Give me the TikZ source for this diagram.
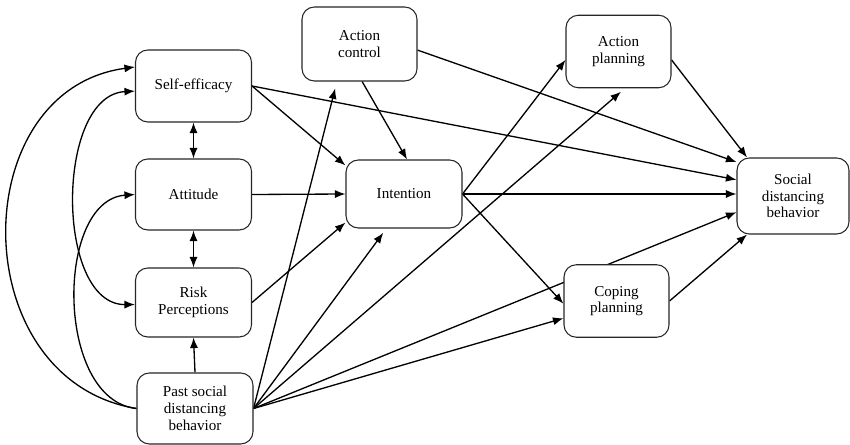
\documentclass[tikz,border=0pt]{standalone}
\usepackage{fontspec}
\setmainfont{Liberation Serif}
\usetikzlibrary{arrows.meta,backgrounds}

\tikzset{
  box/.style={draw=black!85,line width=0.6pt,rounded corners=7pt,fill=white,align=center,
    inner sep=0pt,minimum width=2.32cm,minimum height=1.42cm,
    font=\fontsize{8.6}{9.5}\selectfont},
  plan/.style={box,minimum width=2.1cm,minimum height=1.45cm},
  path/.style={line width=0.75pt,-{Latex[length=6pt,width=4.6pt]}},
  both/.style={path,{Latex[length=6pt,width=4.6pt]}-{Latex[length=6pt,width=4.6pt]}}
}

\begin{document}
\begin{tikzpicture}
  \useasboundingbox (0,0) rectangle (17,-8.9);

  % predictors
  \node[box,minimum height=1.44cm] (selfeff) at (3.87,-1.72) {Self-efficacy};
  \node[box] (attitude) at (3.87,-3.89) {Attitude};
  \node[box,minimum height=1.38cm] (risk) at (3.87,-6.05) {Risk\\Perceptions};
  \node[box] (past) at (3.90,-8.17) {Past social\\distancing\\behavior};

  % middle and right
  \node[box,minimum width=2.3cm,minimum height=1.48cm] (actctrl) at (7.19,-0.88) {Action\\control};
  \node[box,minimum height=1.36cm] (intention) at (8.08,-3.88) {Intention};
  \node[plan] (actplan) at (12.37,-1.03) {Action\\planning};
  \node[plan] (coping) at (12.33,-6.02) {Coping\\planning};
  \node[box,minimum width=2.24cm,minimum height=1.52cm] (social) at (15.86,-3.92) {Social\\distancing\\behavior};

  \begin{scope}[on background layer]
    % correlations among predictors
    \draw[both] (selfeff.south) -- (attitude.north);
    \draw[both] (attitude.south) -- (risk.north);
    \draw[both] (selfeff.185) .. controls (1.1,-1.9) and (1.1,-6.1) .. (risk.182);
    \draw[path] (past.west) .. controls (-0.72,-7.6) and (-0.72,-1.8) .. (selfeff.162);
    \draw[path] (past.west) .. controls (1.1,-8.0) and (1.1,-4.0) .. (attitude.west);
    \draw[path] (past.north) -- (risk.south);

    % to intention
    \draw[path] (selfeff.east) -- (intention.154);
    \draw[path] (attitude.east) -- (intention.west);
    \draw[path] (risk.east) -- (intention.206);
    \draw[path] (actctrl.274) -- (intention.85);

    % from past behavior
    \draw[path,shorten >=4pt] (past.east) -- (actctrl.239);
    \draw[path,shorten >=3pt] (past.east) -- (intention.243);
    \draw[path,shorten >=3pt] (past.east) -- (actplan.280);
    \draw[path] (past.east) -- (coping.198);
    \draw[path] (past.east) -- (social.196);

    % from intention
    \draw[path] (intention.east) -- (intention.east -| social.west);
    \draw[path] (intention.east) -- (actplan.189);
    \draw[path] (intention.east) -- (coping.183);

    % to behavior
    \draw[path] (selfeff.east) -- (social.164);
    \draw[path] (actctrl.354) -- (social.149);
    \draw[path] (actplan.351) -- (social.140);
    \draw[path] (coping.east) -- (social.220);
  \end{scope}
\end{tikzpicture}
\end{document}
